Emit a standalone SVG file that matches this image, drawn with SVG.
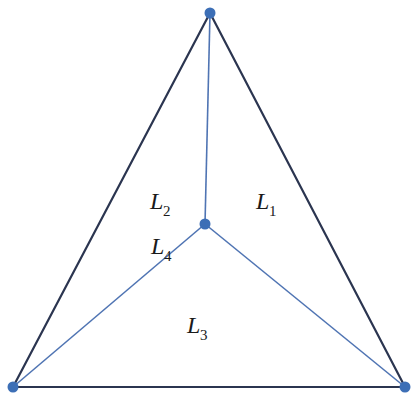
<svg xmlns="http://www.w3.org/2000/svg" width="411" height="399" viewBox="0 0 411 399">
<style>
.outer{stroke:#2b3550;stroke-width:2.2;fill:none;stroke-linecap:round}
.inner{stroke:#4f74b3;stroke-width:1.6;fill:none}
.dot{fill:#3d6fb6}
.lbl{font-family:"Liberation Serif",serif;font-style:italic;font-size:24px;fill:#1a1a1a}
.sub{font-family:"Liberation Serif",serif;font-size:15px;fill:#1a1a1a}
</style>
<rect width="411" height="399" fill="#ffffff"/>
<g id="connectors">
<line class="outer" x1="210" y1="13" x2="13" y2="387"/>
<line class="outer" x1="210" y1="13" x2="405" y2="387"/>
<line class="outer" x1="13" y1="387" x2="405" y2="387"/>
<line class="inner" x1="210" y1="13" x2="205" y2="224"/>
<line class="inner" x1="205" y1="224" x2="13" y2="387"/>
<line class="inner" x1="205" y1="224" x2="405" y2="387"/>
</g>
<g id="n_top"><circle class="dot" cx="210" cy="13" r="5.5"/></g>
<g id="n_center"><circle class="dot" cx="205" cy="224" r="5.5"/></g>
<g id="n_left"><circle class="dot" cx="13" cy="387" r="5.5"/></g>
<g id="n_right"><circle class="dot" cx="405" cy="387" r="5.5"/></g>
<g id="labels">
<text class="lbl" x="150" y="209">L</text><text class="sub" x="163" y="216">2</text>
<text class="lbl" x="256" y="209">L</text><text class="sub" x="269" y="216">1</text>
<text class="lbl" x="151" y="254">L</text><text class="sub" x="164" y="261">4</text>
<text class="lbl" x="187" y="333">L</text><text class="sub" x="200" y="340">3</text>
</g>
</svg>
